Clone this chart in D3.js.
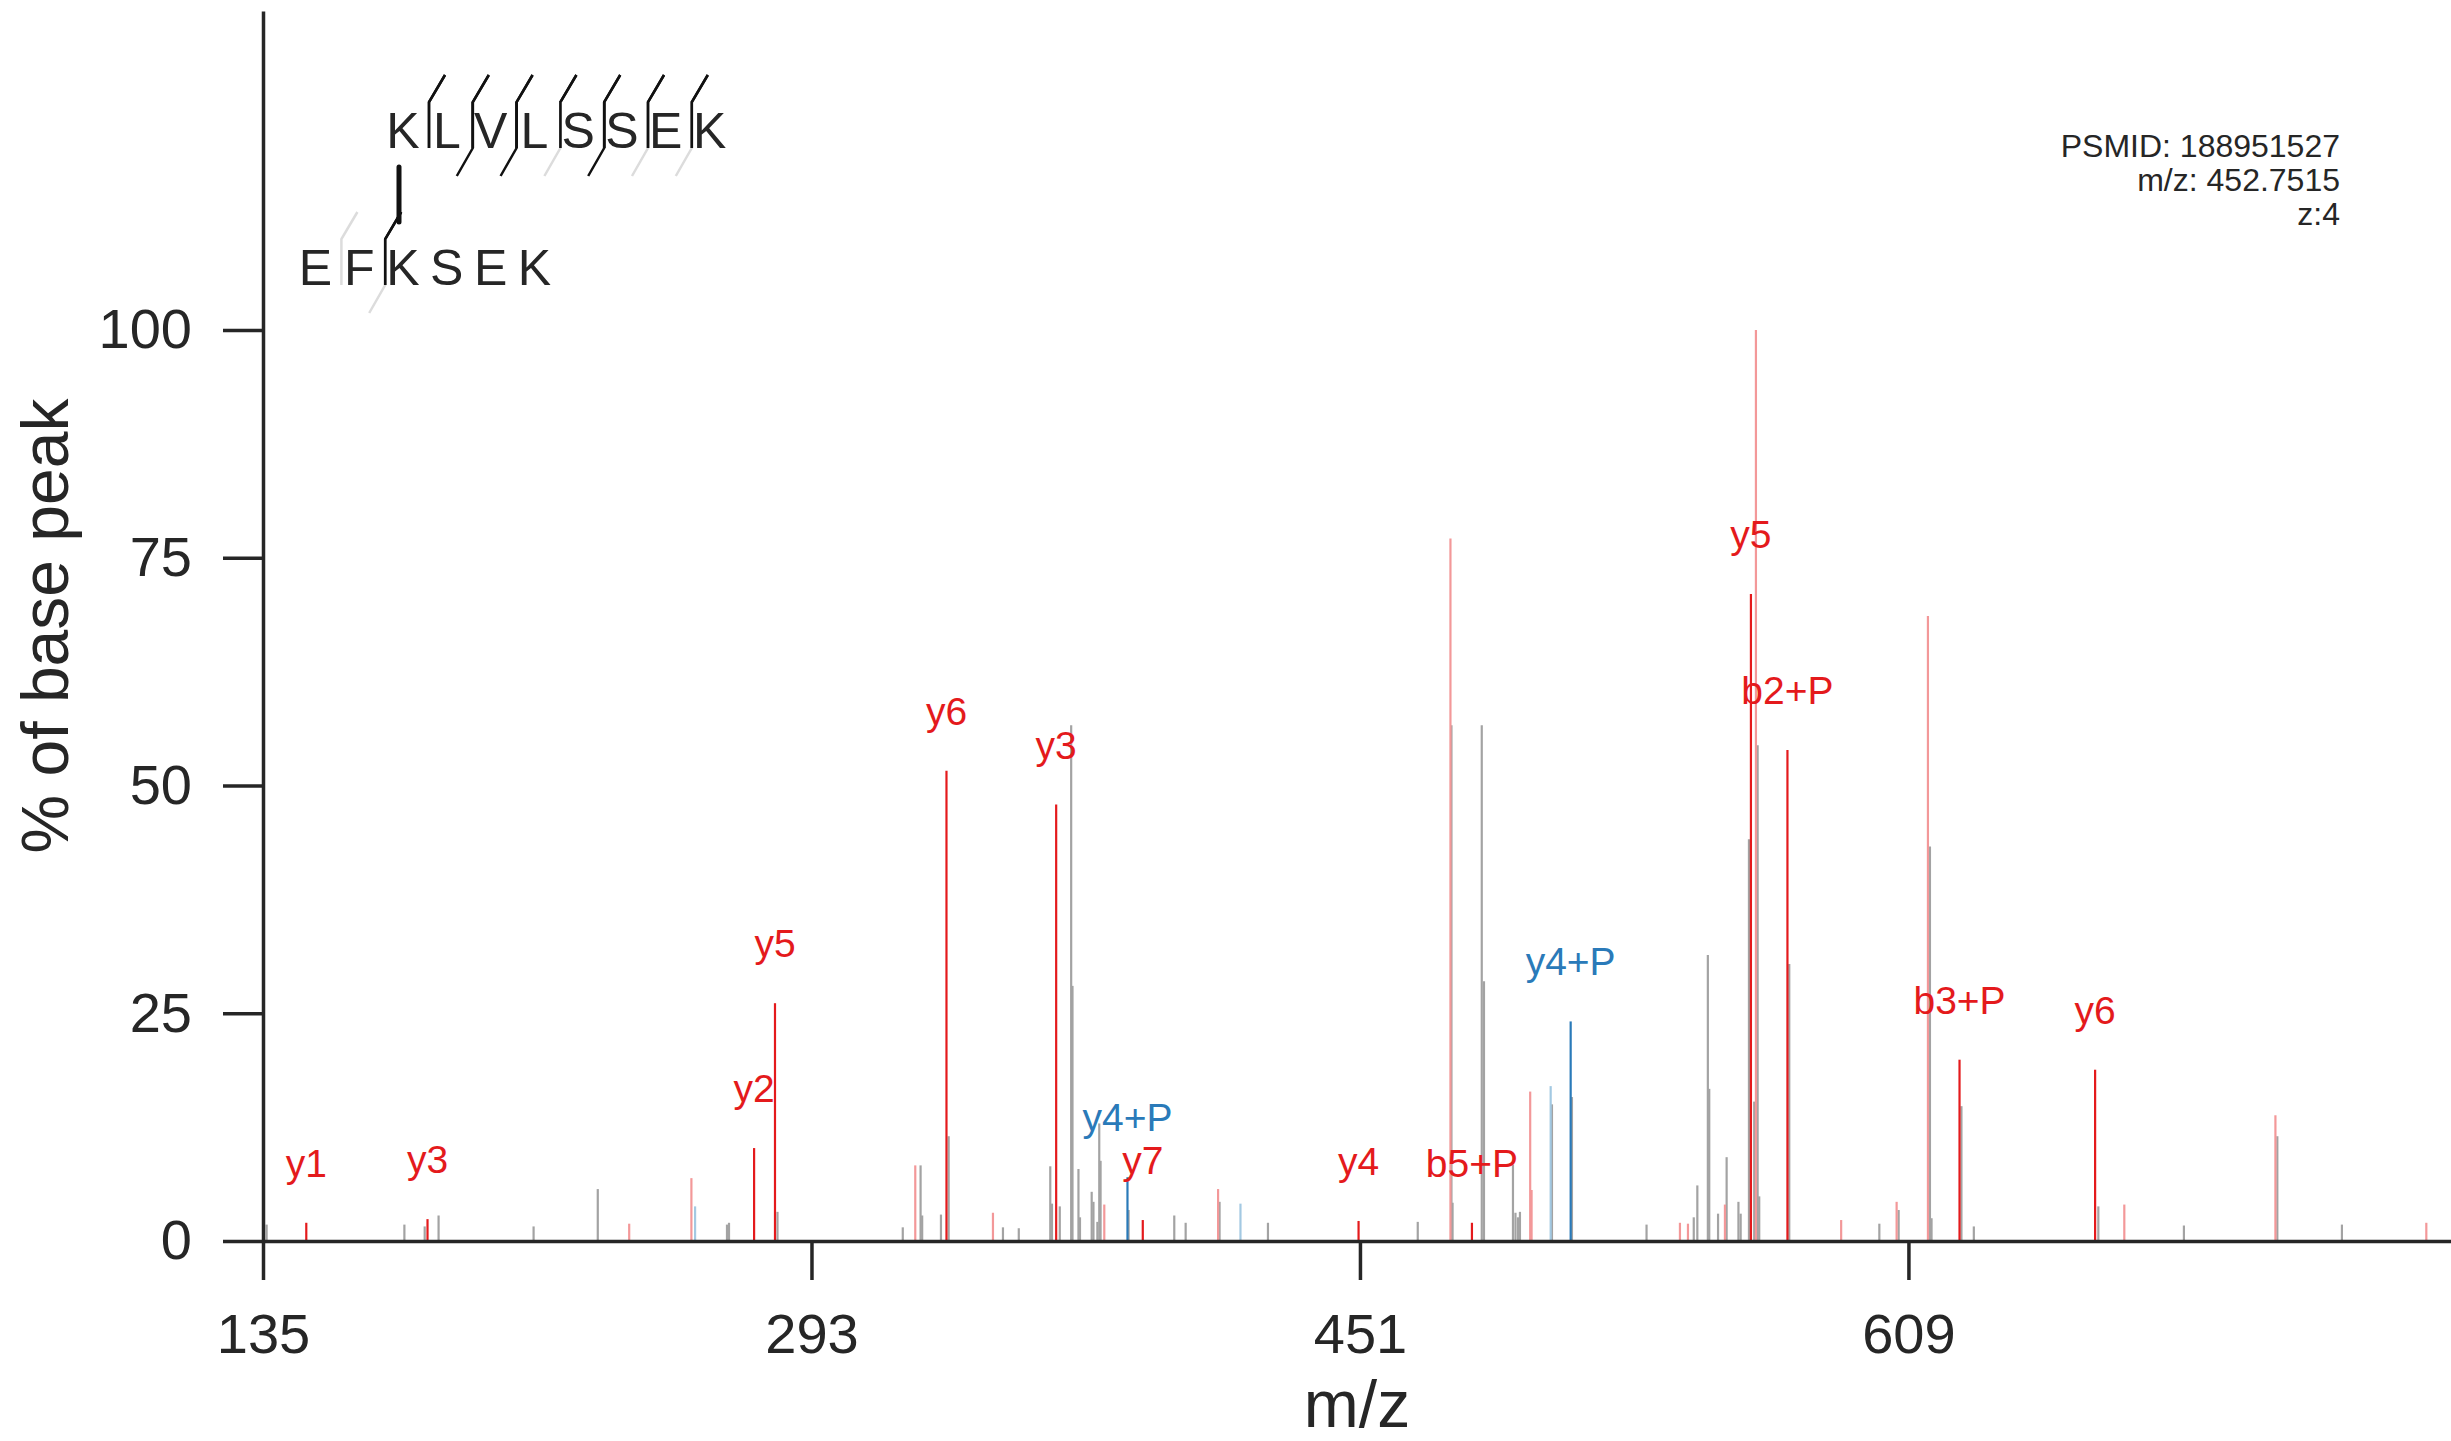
<!DOCTYPE html>
<html>
<head>
<meta charset="utf-8">
<script src="https://cdn.jsdelivr.net/npm/d3@7"></script>
<style>
  html, body { margin: 0; padding: 0; background: #fff; }
  svg { display: block; font-family: "Liberation Sans", Arial, Helvetica, sans-serif; }
</style>
</head>
<body>
<svg id="chart" width="2451" height="1441"></svg>
<script>
// ---------------- DATA ----------------
const xTicks = [135, 293, 451, 609];
const yTicks = [0, 25, 50, 75, 100];
const xTitle = "m/z";
const yTitle = "% of base peak";
const infoLines = ["PSMID: 188951527", "m/z: 452.7515", "z:4"];

// peptide 1 annotated fragments: [m/z, intensity %, label]
const pep1Fragments = [
  [147.47, 2.0, "y1"], [182.39, 2.4, "y3"], [276.47, 10.2, "y2"], [282.49, 26.1, "y5"],
  [331.89, 51.6, "y6"], [363.49, 47.9, "y3"], [388.44, 2.3, "y7"], [450.60, 2.2, "y4"],
  [483.26, 2.0, "b5+P"], [563.63, 71.0, "y5"], [574.15, 53.9, "b2+P"], [623.72, 19.9, "b3+P"],
  [662.78, 18.8, "y6"]
];
// peptide 2 annotated fragments
const pep2Fragments = [
  [384.03, 7.0, "y4+P"], [511.70, 24.1, "y4+P"]
];
// peptide 1 loss / isotope peaks (light red): [m/z, intensity %]
const pep1Loss = [
  [240.49, 1.9], [258.41, 6.9], [322.90, 8.3], [345.28, 3.1], [377.35, 4.0], [410.13, 5.7],
  [477.07, 77.1], [500.04, 16.4], [500.44, 5.6], [543.18, 2.0], [545.49, 1.9], [556.14, 4.0],
  [565.07, 100], [589.62, 2.3], [605.60, 4.3], [614.62, 68.6], [671.19, 4.0], [714.72, 13.8],
  [758.19, 2.0]
];
// peptide 2 loss / isotope peaks (light blue)
const pep2Loss = [
  [259.47, 3.8], [416.58, 4.1], [505.94, 17.0]
];
// unannotated peaks (grey)
const unannotated = [
  [136.04, 1.8], [175.73, 1.8], [181.58, 1.6], [185.58, 2.8], [212.95, 1.6], [231.44, 5.7],
  [268.66, 1.8], [269.24, 2.0], [283.21, 3.2], [319.30, 1.5], [324.43, 8.3], [324.89, 2.8],
  [330.30, 2.9], [332.52, 11.5], [348.16, 1.5], [352.72, 1.4], [361.79, 8.2], [362.28, 4.1],
  [364.53, 3.8], [367.81, 56.6], [368.19, 28.0], [369.91, 7.9], [370.35, 2.6], [373.72, 5.4],
  [374.23, 4.3], [375.36, 2.1], [375.90, 12.9], [376.28, 8.8], [384.35, 3.4], [397.51, 2.8],
  [400.79, 2.0], [410.56, 4.3], [424.50, 2.0], [467.65, 2.1], [477.36, 56.6], [477.68, 4.2],
  [486.09, 56.6], [486.73, 28.5], [495.08, 8.4], [495.80, 3.1], [496.52, 2.6], [497.09, 3.2],
  [506.31, 15.0], [512.07, 15.8], [533.56, 1.8], [547.16, 2.6], [548.19, 6.1], [551.22, 31.4],
  [551.62, 16.7], [554.16, 3.0], [556.63, 9.2], [560.03, 4.3], [560.67, 3.0], [563.06, 44.1],
  [564.58, 15.3], [565.56, 54.4], [566.02, 4.9], [574.67, 30.4], [600.62, 1.9], [606.18, 3.4],
  [615.20, 43.3], [615.66, 2.5], [624.27, 14.8], [627.84, 1.6], [663.71, 3.8], [688.36, 1.7],
  [715.27, 11.5], [733.88, 1.8]
];

// peptide sequences and fragment-match markers per gap: 1 matched, 0 unmatched (grey), null none
const pep1Seq = ["K", "L", "V", "L", "S", "S", "E", "K"];
const pep1B = [1, 1, 1, 1, 1, 1, 1];
const pep1Y = [null, 1, 1, 0, 1, 0, 0];
const pep2Seq = ["E", "F", "K", "S", "E", "K"];
const pep2B = [0, 1, null, null, null];
const pep2Y = [null, 0, null, null, null];
const pep1LinkPos = 0;
const pep2LinkPos = 2;

// ---------------- STYLE ----------------
const C = {
  axis: "#262626", text: "#262626",
  p1: "#e41a1c", p1loss: "#f39899",
  p2: "#2a7ab9", p2loss: "#a3c9e2",
  grey: "#a3a3a3", markGrey: "#dcdcdc"
};

const svg = d3.select("#chart");
const x = d3.scaleLinear().domain([135, 765.3]).range([263, 2451]);
const y = d3.scaleLinear().domain([0, 135]).range([1241, 11]);

// ---------------- PEAKS ----------------
const gPeaks = svg.append("g");
function drawPeaks(data, color) {
  gPeaks.selectAll(null).data(data).enter().append("line")
    .attr("x1", d => x(d[0])).attr("x2", d => x(d[0]))
    .attr("y1", y(0)).attr("y2", d => y(d[1]))
    .attr("stroke", color).attr("stroke-width", 2.2);
}
drawPeaks(unannotated, C.grey);
drawPeaks(pep2Loss, C.p2loss);
drawPeaks(pep1Loss, C.p1loss);
drawPeaks(pep2Fragments, C.p2);
drawPeaks(pep1Fragments, C.p1);

// ---------------- AXES ----------------
const yAxis = d3.axisLeft(y).tickValues(yTicks).tickSize(40).tickSizeOuter(0).tickPadding(31);
const xAxis = d3.axisBottom(x).tickValues(xTicks).tickSize(39).tickSizeOuter(0).tickPadding(33)
  .tickFormat(d3.format("d"));

const gy = svg.append("g").attr("transform", `translate(${x(135)},0)`).call(yAxis);
const gx = svg.append("g").attr("transform", `translate(0,${y(0)})`).call(xAxis);
[gx, gy].forEach(g => {
  g.selectAll(".domain").attr("stroke", C.axis).attr("stroke-width", 3.5);
  g.selectAll(".tick line").attr("stroke", C.axis).attr("stroke-width", 3.5);
  g.selectAll(".tick text").attr("fill", C.text).attr("font-size", 56)
    .attr("font-family", "Liberation Sans, Arial, sans-serif");
});

svg.append("text").text(xTitle)
  .attr("x", (x.range()[0] + x.range()[1]) / 2).attr("y", 1427)
  .attr("text-anchor", "middle").attr("font-size", 66).attr("fill", C.text);
svg.append("text").text(yTitle)
  .attr("transform", `translate(68,${(y.range()[0] + y.range()[1]) / 2}) rotate(-90)`)
  .attr("text-anchor", "middle").attr("font-size", 66).attr("fill", C.text);

// ---------------- PEAK LABELS ----------------
function drawLabels(data, color) {
  svg.append("g").selectAll("text").data(data).enter().append("text")
    .attr("x", d => x(d[0])).attr("y", d => y(d[1]) - 46)
    .attr("text-anchor", "middle").attr("font-size", 39).attr("fill", color)
    .text(d => d[2]);
}
drawLabels(pep1Fragments, C.p1);
drawLabels(pep2Fragments, C.p2);

// ---------------- INFO ----------------
svg.append("g").selectAll("text").data(infoLines).enter().append("text")
  .attr("x", 2340).attr("y", (d, i) => 157 + i * 34)
  .attr("text-anchor", "end").attr("font-size", 32).attr("fill", C.text)
  .text(d => d);

// ---------------- PEPTIDE SEQUENCE ANNOTATION ----------------
const seqG = svg.append("g");
const step = 43.8;
const linkX = 403;
function drawPeptide(seq, linkPos, baseY, bArr, yArr) {
  const x0 = linkX - linkPos * step;
  seqG.append("g").selectAll("text").data(seq).enter().append("text")
    .attr("x", (d, i) => x0 + i * step).attr("y", baseY)
    .attr("text-anchor", "middle").attr("font-size", 50).attr("fill", C.text)
    .text(d => d);
  const top = baseY - 46, bot = baseY;
  bArr.forEach((b, i) => {
    const gx0 = x0 + i * step + 26;
    const yv = yArr[i];
    if (b !== null) {
      const col = b ? "#111" : C.markGrey;
      seqG.append("path").attr("d", `M${gx0},${bot}V${top}L${gx0 + 16},${top - 27}`)
        .attr("fill", "none").attr("stroke", col).attr("stroke-width", 2.5);
    }
    if (yv !== null && yv !== undefined) {
      const col = yv ? "#111" : C.markGrey;
      seqG.append("path").attr("d", `M${gx0},${top}V${bot}L${gx0 - 16},${bot + 28}`)
        .attr("fill", "none").attr("stroke", col).attr("stroke-width", 2.5);
    }
  });
  // redraw matched b verticals on top
  bArr.forEach((b, i) => {
    if (b) {
      const gx0 = x0 + i * step + 26;
      seqG.append("path").attr("d", `M${gx0},${bot}V${top}L${gx0 + 16},${top - 27}`)
        .attr("fill", "none").attr("stroke", "#111").attr("stroke-width", 2.5);
    }
  });
}
drawPeptide(pep1Seq, pep1LinkPos, 148, pep1B, pep1Y);
drawPeptide(pep2Seq, pep2LinkPos, 285, pep2B, pep2Y);
// cross-link bar
seqG.append("line").attr("x1", linkX - 4).attr("x2", linkX - 4).attr("y1", 167).attr("y2", 222)
  .attr("stroke", "#111").attr("stroke-width", 5).attr("stroke-linecap", "round");
</script>
</body>
</html>
